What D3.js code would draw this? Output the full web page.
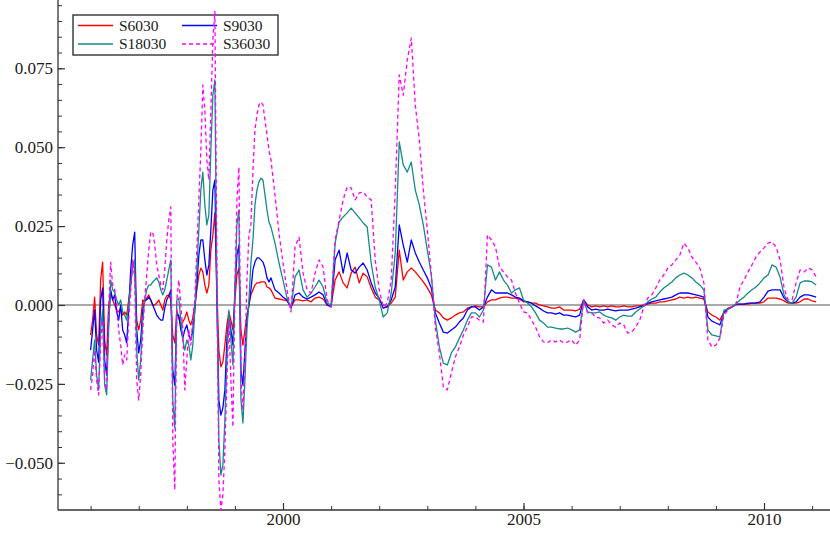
<!DOCTYPE html>
<html><head><meta charset="utf-8">
<script src="https://cdn.jsdelivr.net/npm/d3@7"></script>
<style>body{margin:0;background:#fff}svg{display:block}</style>
</head><body>
<svg id="c" width="830" height="533"></svg>
<script>
const seriesNames = ["S6030","S9030","S18030","S36030"];
const seriesColors = ["#ff0000","#0000ff","#148b87","#ff00ff"];
// dates: half-monthly to late 1999, then monthly
const dates = [...d3.range(91).map(i => 1996 + i/24), ...d3.range(136).map(j => 1999 + 10/12 + j/12)];

const s6030 = [-0.0095,-0.0048,0.0025,-0.0095,-0.0127,0.0079,0.0136,-0.0111,-0.0158,0,
0.0041,0.0016,0,-0.0016,-0.0022,-0.0010,-0.0032,-0.0022,-0.0032,0.0016,
0.0063,0.0133,0.0111,-0.0048,-0.0079,-0.0048,0.0016,0.0010,0.0022,0.0032,
0.0016,0,0,0.0006,0.0016,0,-0.0016,0.0016,0.0029,0.0032,
0.0016,-0.0095,-0.0120,-0.0016,-0.0041,-0.0063,-0.0054,-0.0041,-0.0022,-0.0048,
-0.0063,-0.0041,0,0.0048,0.0095,0.0117,0.0105,0.0063,0.0038,0.0063,
0.0174,0.0222,0.0292,0.0048,-0.0143,-0.0196,-0.0181,-0.0127,-0.0063,-0.0022,
-0.0048,-0.0079,0.0016,0.0095,0.0117,-0.0079,-0.0127,-0.0079,-0.0032,0,
0.0032,0.0048,0.0063,0.0070,0.0070,0.0073,0.0073,0.0073,0.0057,0.0054,
0.0048,
0.0022,0.0019,0.0016,0.0013,-0.0006,0.0016,0.0016,0.0013,0.0016,0.0010,
0.0022,0.0025,0.0019,0,-0.0003,0.0079,0.0105,0.0070,0.0054,0.0101,
0.0120,0.0070,0.0101,0.0089,0.0054,0.0025,0.0016,0,-0.0006,0.0006,
0.0025,0.0174,0.0079,0.0105,0.0117,0.0105,0.0089,0.0073,0.0054,0.0032,
-0.0016,-0.0025,-0.0041,-0.0048,-0.0041,-0.0032,-0.0025,-0.0022,-0.0010,-0.0006,
-0.0003,-0.0006,-0.0006,0.0010,0.0016,0.0016,0.0022,0.0025,0.0025,0.0022,
0.0022,0.0019,0.0010,0.0010,0.0006,0.0006,0,-0.0003,-0.0006,-0.0010,
-0.0010,-0.0006,-0.0016,-0.0016,-0.0016,-0.0019,-0.0013,0.0016,0,-0.0006,
-0.0003,-0.0006,-0.0003,-0.0006,-0.0003,-0.0006,-0.0006,-0.0003,-0.0006,-0.0006,
-0.0003,-0.0003,0,0.0003,0.0006,0.0006,0.0010,0.0010,0.0013,0.0016,
0.0019,0.0025,0.0022,0.0025,0.0022,0.0025,0.0022,0.0019,-0.0022,-0.0032,
-0.0038,-0.0048,-0.0022,-0.0010,-0.0006,0,0.0003,0.0003,0.0003,0.0006,
0.0006,0.0006,0.0010,0.0022,0.0022,0.0022,0.0019,0.0013,0.0006,0.0006,
0.0006,0.0010,0.0019,0.0019,0.0013,0.0010];

const s9030 = [-0.0143,-0.0079,-0.0016,-0.0143,-0.0181,0.0016,0.0054,-0.0174,-0.0222,-0.0048,
0.0048,0.0016,0.0032,-0.0022,-0.0048,0,-0.0079,-0.0095,-0.0120,-0.0016,
0.0111,0.0190,0.0231,-0.0079,-0.0152,-0.0111,-0.0016,0.0016,0.0016,0.0025,
0.0016,0,-0.0016,-0.0032,-0.0041,-0.0048,-0.0048,-0.0010,0.0016,0.0029,
0.0048,-0.0206,-0.0254,-0.0032,-0.0032,-0.0079,-0.0105,-0.0079,-0.0063,-0.0095,
-0.0111,-0.0079,-0.0016,0.0063,0.0158,0.0206,0.0206,0.0143,0.0095,0.0127,
0.0238,0.0364,0.0396,0.0016,-0.0301,-0.0349,-0.0326,-0.0269,-0.0111,-0.0032,
-0.0079,-0.0127,0.0048,0.0158,0.0190,-0.0206,-0.0254,-0.0143,-0.0048,0,
0.0048,0.0111,0.0136,0.0149,0.0149,0.0143,0.0136,0.0117,0.0086,0.0073,
0.0086,
0.0048,0.0038,0.0025,0.0016,-0.0010,0.0032,0.0038,0.0025,0.0019,0.0025,
0.0032,0.0041,0.0032,0,-0.0006,0.0143,0.0174,0.0101,0.0165,0.0111,
0.0101,0.0120,0.0133,0.0111,0.0070,0.0038,0.0022,-0.0010,-0.0006,0.0016,
0.0057,0.0254,0.0190,0.0136,0.0206,0.0165,0.0136,0.0111,0.0086,0.0054,
-0.0025,-0.0057,-0.0086,-0.0089,-0.0079,-0.0070,-0.0054,-0.0041,-0.0016,-0.0006,
-0.0006,-0.0016,-0.0006,0.0025,0.0048,0.0038,0.0038,0.0038,0.0038,0.0032,
0.0025,0.0022,0.0013,0.0010,0.0006,-0.0003,-0.0010,-0.0019,-0.0025,-0.0025,
-0.0029,-0.0025,-0.0032,-0.0032,-0.0035,-0.0038,-0.0032,0.0016,-0.0006,-0.0016,
-0.0013,-0.0016,-0.0016,-0.0013,-0.0016,-0.0019,-0.0016,-0.0016,-0.0016,-0.0013,
-0.0010,-0.0006,-0.0003,0.0006,0.0010,0.0013,0.0016,0.0019,0.0022,0.0025,
0.0032,0.0038,0.0038,0.0038,0.0035,0.0032,0.0029,0.0025,-0.0038,-0.0051,
-0.0057,-0.0063,-0.0025,-0.0013,-0.0006,0.0003,0.0003,0.0003,0.0006,0.0006,
0.0006,0.0010,0.0025,0.0044,0.0048,0.0048,0.0048,0.0022,0.0010,0.0006,
0.0010,0.0025,0.0032,0.0032,0.0029,0.0025];

const s18030 = [-0.0238,-0.0174,-0.0111,-0.0222,-0.0269,-0.0079,-0.0016,-0.0254,-0.0285,-0.0079,
0.0079,0.0048,0.0041,0.0016,0,0.0016,-0.0022,-0.0032,-0.0048,0,
0.0063,0.0127,0.0143,-0.0143,-0.0238,-0.0174,-0.0048,0.0016,0.0048,0.0063,
0.0063,0.0073,0.0079,0.0086,0.0073,0.0048,0.0032,0.0048,0.0079,0.0111,
0.0143,-0.0301,-0.0390,0.0016,0.0022,-0.0048,-0.0111,-0.0143,-0.0111,-0.0127,
-0.0174,-0.0127,-0.0016,0.0111,0.0238,0.0364,0.0421,0.0317,0.0254,0.0285,
0.0491,0.0665,0.0713,0.0048,-0.0428,-0.0539,-0.0507,-0.0364,-0.0174,-0.0016,
-0.0111,-0.0190,0.0048,0.0254,0.0301,-0.0301,-0.0374,-0.0238,-0.0079,0.0016,
0.0136,0.0206,0.0317,0.0364,0.0390,0.0402,0.0396,0.0349,0.0301,0.0263,
0.0247,
0.0196,0.0133,0.0079,0.0022,-0.0010,0.0089,0.0111,0.0048,0.0025,0.0038,
0.0057,0.0079,0.0057,0.0006,0,0.0196,0.0263,0.0279,0.0292,0.0307,
0.0292,0.0276,0.0260,0.0247,0.0133,0.0057,0.0016,-0.0038,-0.0025,0.0038,
0.0165,0.0517,0.0444,0.0421,0.0453,0.0364,0.0317,0.0254,0.0174,0.0095,
-0.0048,-0.0133,-0.0184,-0.0190,-0.0152,-0.0133,-0.0105,-0.0079,-0.0048,-0.0025,
-0.0025,-0.0038,-0.0016,0.0127,0.0120,0.0079,0.0105,0.0079,0.0063,0.0038,
0.0048,0.0054,0.0016,0.0006,-0.0006,-0.0025,-0.0048,-0.0057,-0.0070,-0.0070,
-0.0073,-0.0076,-0.0076,-0.0073,-0.0079,-0.0086,-0.0079,0.0016,-0.0022,-0.0025,
-0.0025,-0.0022,-0.0032,-0.0038,-0.0041,-0.0048,-0.0038,-0.0032,-0.0035,-0.0035,
-0.0022,-0.0013,-0.0003,0.0010,0.0019,0.0025,0.0041,0.0054,0.0063,0.0073,
0.0086,0.0095,0.0101,0.0095,0.0086,0.0073,0.0063,0.0048,-0.0079,-0.0095,
-0.0098,-0.0101,-0.0016,-0.0013,-0.0006,0.0003,0.0016,0.0025,0.0038,0.0048,
0.0057,0.0070,0.0086,0.0095,0.0127,0.0120,0.0089,0.0032,0.0010,0.0006,
0.0025,0.0070,0.0076,0.0076,0.0073,0.0063];

const s36030 = [-0.0269,-0.0222,-0.0143,-0.0238,-0.0285,-0.0111,-0.0048,-0.0238,-0.0269,-0.0016,
0.0136,0.0063,0.0048,0,-0.0079,-0.0127,-0.0190,-0.0158,-0.0174,-0.0048,
0.0048,0.0143,0.0079,-0.0238,-0.0301,-0.0222,-0.0079,0.0016,0.0095,0.0174,
0.0231,0.0231,0.0190,0.0127,0.0095,0.0063,0.0048,0.0111,0.0206,0.0269,
0.0311,-0.0428,-0.0586,0.0016,0.0079,0,-0.0079,-0.0269,-0.0174,-0.0079,
-0.0127,-0.0048,0.0016,0.0174,0.0333,0.0491,0.0697,0.0618,0.0459,0.0396,
0.0618,0.0840,0.0930,0.0143,-0.0554,-0.0650,-0.0602,-0.0459,-0.0238,-0.0048,
-0.0238,-0.0387,0.0048,0.0333,0.0437,-0.0238,-0.0333,-0.0174,0.0079,0.0222,
0.0254,0.0428,0.0555,0.0602,0.0634,0.0643,0.0634,0.0586,0.0539,0.0491,
0.0459,
0.0349,0.0228,0.0133,0.0048,-0.0022,0.0184,0.0215,0.0101,0.0048,0.0038,
0.0101,0.0143,0.0120,0.0016,-0.0006,0.0206,0.0269,0.0333,0.0374,0.0371,
0.0333,0.0355,0.0358,0.0342,0.0333,0.0143,0.0048,-0.0006,0.0006,0.0079,
0.0364,0.0729,0.0665,0.0776,0.0846,0.0634,0.0523,0.0364,0.0238,0.0095,
-0.0070,-0.0152,-0.0260,-0.0269,-0.0215,-0.0165,-0.0133,-0.0095,-0.0070,-0.0038,
-0.0038,-0.0048,-0.0054,0.0222,0.0206,0.0184,0.0120,0.0105,0.0089,0.0079,
0.0038,0.0006,-0.0022,-0.0025,-0.0048,-0.0070,-0.0101,-0.0117,-0.0120,-0.0111,
-0.0117,-0.0111,-0.0120,-0.0117,-0.0111,-0.0127,-0.0111,0.0016,-0.0025,-0.0025,
-0.0038,-0.0041,-0.0057,-0.0048,-0.0063,-0.0070,-0.0057,-0.0063,-0.0089,-0.0086,
-0.0070,-0.0048,-0.0006,0.0022,0.0032,0.0054,0.0079,0.0095,0.0117,0.0127,
0.0143,0.0158,0.0196,0.0181,0.0152,0.0136,0.0117,0.0070,-0.0111,-0.0133,
-0.0127,-0.0105,-0.0032,-0.0016,-0.0006,0.0003,0.0057,0.0079,0.0105,0.0127,
0.0152,0.0168,0.0181,0.0196,0.0200,0.0184,0.0143,0.0054,0.0016,0.0016,
0.0070,0.0111,0.0105,0.0117,0.0111,0.0089];

const yMajorTicks = [-0.050, -0.025, 0.000, 0.025, 0.050, 0.075];
const xMajorTicks = [2000, 2005, 2010];
const xMinorTicks = d3.range(1996, 2012, 1);
const yMinorTicks = d3.range(-60, 100, 5).map(v => v / 1000);

const allSeries = [s6030, s9030, s18030, s36030];

(function draw() {
const svg = d3.select("#c");
const pL = 58, pB = 510, pR = 830, pT = 0;
const x = d3.scaleLinear().domain([1995.322, 2011.372]).range([pL, pR]);
const y = d3.scaleLinear().domain([-0.06496, 0.09664]).range([pB, pT]);

svg.append("defs").append("clipPath").attr("id", "clip")
  .append("rect").attr("x", pL).attr("y", pT).attr("width", pR - pL).attr("height", pB - pT + 1);

// zero line
svg.append("line").attr("x1", pL).attr("x2", pR).attr("y1", y(0)).attr("y2", y(0))
  .attr("stroke", "#8c8c8c").attr("stroke-width", 1.3);

const font = "'Liberation Serif', 'Times New Roman', serif";

// minor ticks
svg.append("g").attr("transform", `translate(${pL},0)`)
  .call(d3.axisLeft(y).tickValues(yMinorTicks).tickSize(-4).tickSizeOuter(0).tickFormat(""))
  .call(g => g.select(".domain").remove())
  .selectAll("line").attr("stroke", "#333");
svg.append("g").attr("transform", `translate(0,${pB})`)
  .call(d3.axisBottom(x).tickValues(xMinorTicks).tickSize(-4).tickSizeOuter(0).tickFormat(""))
  .call(g => g.select(".domain").remove())
  .selectAll("line").attr("stroke", "#333");

// major axes
const yAxis = svg.append("g").attr("transform", `translate(${pL},0)`)
  .call(d3.axisLeft(y).tickValues(yMajorTicks).tickSize(-7).tickSizeOuter(0).tickPadding(5).tickFormat(d3.format(".3f")));
yAxis.select(".domain").remove();
yAxis.selectAll("line").attr("stroke", "#333").attr("stroke-width", 1.2);
yAxis.selectAll("text").attr("font-family", font).attr("font-size", 17).attr("fill", "#1a1a1a");

const xAxis = svg.append("g").attr("transform", `translate(0,${pB})`)
  .call(d3.axisBottom(x).tickValues(xMajorTicks).tickSize(-7).tickSizeOuter(0).tickPadding(3).tickFormat(d3.format("d")));
xAxis.select(".domain").remove();
xAxis.selectAll("line").attr("stroke", "#333").attr("stroke-width", 1.2);
xAxis.selectAll("text").attr("font-family", font).attr("font-size", 17).attr("fill", "#1a1a1a");

// axis lines
svg.append("line").attr("x1", pL).attr("x2", pL).attr("y1", pT).attr("y2", pB)
  .attr("stroke", "#333").attr("stroke-width", 1.3);
svg.append("line").attr("x1", pL).attr("x2", pR).attr("y1", pB).attr("y2", pB)
  .attr("stroke", "#333").attr("stroke-width", 1.3);

// legend box
const lg = svg.append("g");
lg.append("rect").attr("x", 73).attr("y", 15).attr("width", 205).attr("height", 40)
  .attr("fill", "none").attr("stroke", "#333").attr("stroke-width", 1.4);
const legendPos = [[78, 25.5], [182, 25.5], [78, 44], [182, 44]];
seriesNames.forEach((n, k) => {
  const [lx, ly] = legendPos[k];
  lg.append("line").attr("x1", lx).attr("x2", lx + 35).attr("y1", ly).attr("y2", ly)
    .attr("stroke", seriesColors[k]).attr("stroke-width", 1.3)
    .attr("stroke-dasharray", k === 3 ? "4,3" : null);
  lg.append("text").attr("x", lx + 41).attr("y", ly).attr("dy", "0.33em")
    .attr("font-family", font).attr("font-size", 15.5).attr("fill", "#1a1a1a").text(n);
});

// series lines
const line = d3.line().x((d, i) => x(dates[i])).y(d => y(d)).curve(d3.curveLinear);
const plot = svg.append("g").attr("clip-path", "url(#clip)");
allSeries.forEach((s, k) => {
  plot.append("path").datum(s).attr("d", line)
    .attr("fill", "none").attr("stroke", seriesColors[k]).attr("stroke-width", 1.3)
    .attr("stroke-linejoin", "round")
    .attr("stroke-dasharray", k === 3 ? "4,3" : null);
});
})();
</script>
</body></html>
